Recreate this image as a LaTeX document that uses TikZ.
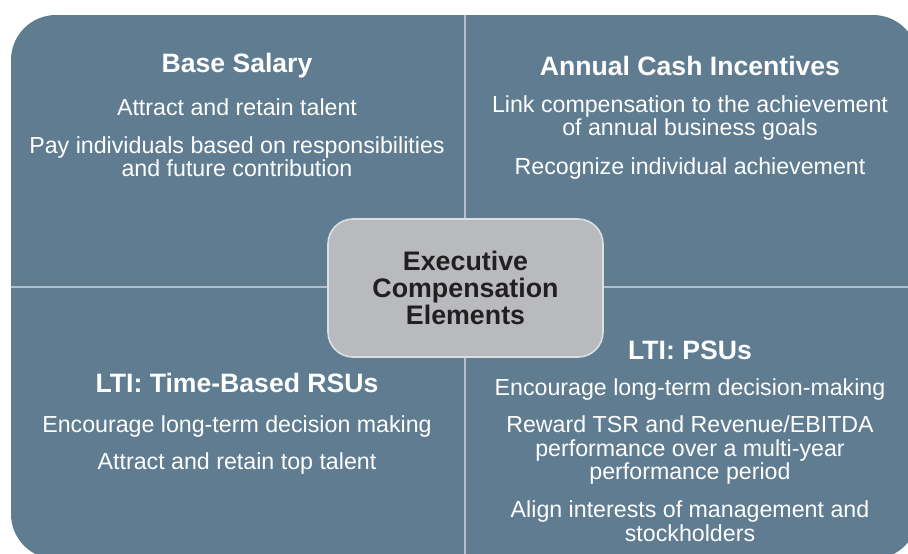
\documentclass[tikz,border=0pt]{standalone}
\usepackage{fontspec}
\setmainfont{Liberation Sans}
\definecolor{panelblue}{RGB}{95,124,145}
\definecolor{rulecol}{RGB}{176,193,205}
\definecolor{hubgray}{RGB}{185,186,189}
\definecolor{hubedge}{RGB}{220,223,226}
\definecolor{hubtext}{RGB}{35,31,32}
\tikzset{
  head/.style={text=white,font=\bfseries\fontsize{13.3}{14}\selectfont},
  item/.style={text=white,align=center,font=\fontsize{11.6}{11.7}\selectfont},
  hub/.style={text=hubtext,align=center,font=\bfseries\fontsize{13.4}{13.5}\selectfont}
}
\begin{document}
\begin{tikzpicture}[x=0.5pt,y=-0.5pt]
        \useasboundingbox (0,0) rectangle (908,553);
        \clip (0,0) rectangle (908,553);
        \fill[white] (0,0) rectangle (908,553);

        % panel and dividers
        \fill[panelblue, rounded corners=22.5pt] (11,15) rectangle (918,559);
        \draw[rulecol, line width=1pt] (465,15) -- (465,559);
        \draw[rulecol, line width=1pt] (11,287) -- (918,287);

        % centre
        \filldraw[fill=hubgray, draw=hubedge, line width=0.8pt, rounded corners=12.5pt] (328,219) rectangle (603,357);
        \node[hub] (hub) at (465.5,288) {Executive\\Compensation\\Elements};

        % base salary
        \node[head] (base) at (237,66) {Base Salary};
        \node[item] (base1) at (237,107) {Attract and retain talent};
        \node[item] (base2) at (237,156.5) {Pay individuals based on responsibilities\\and future contribution};

        % annual cash incentives
        \node[head] (cash) at (690,66) {Annual Cash Incentives};
        \node[item] (cash1) at (690,118) {Link compensation to the achievement\\of annual business goals};
        \node[item] (cash2) at (690,168) {Recognize individual achievement};

        % time-based RSUs
        \node[head] (rsu) at (237,383) {LTI: Time-Based RSUs};
        \node[item] (rsu1) at (237,426) {Encourage long-term decision making};
        \node[item] (rsu2) at (237,463) {Attract and retain top talent};

        % PSUs
        \node[head] (psu) at (690,350) {LTI: PSUs};
        \node[item] (psu1) at (690,389) {Encourage long-term decision-making};
        \node[item] (psu2) at (690,450) {Reward TSR and Revenue/EBITDA\\performance over a multi-year\\performance period};
        \node[item] (psu3) at (690,521) {Align interests of management and\\stockholders};
\end{tikzpicture}
\end{document}
